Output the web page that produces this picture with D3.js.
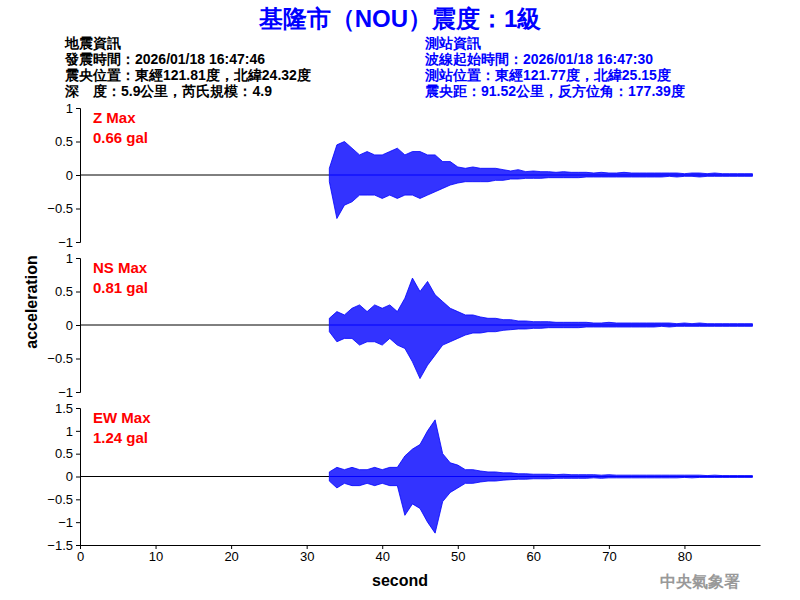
<!DOCTYPE html>
<html><head><meta charset="utf-8">
<script src="https://cdn.jsdelivr.net/npm/d3@7"></script>
<style>body{margin:0;background:#fff}text{font-family:Arial,"Liberation Sans",sans-serif}</style>
</head><body><svg id="c" width="800" height="600"></svg>
<script>
const titleText = '基隆市（NOU）震度：1級'
const leftInfo = ['地震資訊', '發震時間：2026/01/18 16:47:46', '震央位置：東經121.81度，北緯24.32度', '深　度：5.9公里，芮氏規模：4.9']
const rightInfo = ['測站資訊', '波線起始時間：2026/01/18 16:47:30', '測站位置：東經121.77度，北緯25.15度', '震央距：91.52公里，反方位角：177.39度']
const xTicks = [0, 10, 20, 30, 40, 50, 60, 70, 80]
// envelope per second, starting at t = 33 s
const t0 = 33
const zUpper = [0.1, 0.45, 0.5, 0.4, 0.3, 0.35, 0.3, 0.3, 0.35, 0.4, 0.3, 0.35, 0.35, 0.3, 0.3, 0.2, 0.2, 0.12, 0.1, 0.12, 0.1, 0.1, 0.1, 0.08, 0.06, 0.08, 0.05, 0.06, 0.05, 0.05, 0.04, 0.05, 0.04, 0.04, 0.04, 0.03, 0.04, 0.03, 0.03, 0.04, 0.03, 0.03, 0.03, 0.03, 0.03, 0.03, 0.03, 0.02, 0.03, 0.03, 0.02, 0.03, 0.02, 0.02, 0.02, 0.02, 0.02]
const zLower = [-0.1, -0.65, -0.45, -0.4, -0.3, -0.3, -0.3, -0.35, -0.3, -0.35, -0.3, -0.3, -0.35, -0.3, -0.25, -0.2, -0.15, -0.12, -0.1, -0.1, -0.1, -0.1, -0.08, -0.08, -0.06, -0.06, -0.05, -0.05, -0.05, -0.04, -0.04, -0.04, -0.04, -0.04, -0.03, -0.03, -0.03, -0.03, -0.03, -0.03, -0.03, -0.03, -0.03, -0.03, -0.03, -0.02, -0.03, -0.02, -0.02, -0.03, -0.02, -0.02, -0.02, -0.02, -0.02, -0.02, -0.02]
const nsUpper = [0.1, 0.2, 0.15, 0.25, 0.3, 0.2, 0.3, 0.25, 0.3, 0.2, 0.4, 0.7, 0.5, 0.65, 0.45, 0.35, 0.25, 0.2, 0.15, 0.15, 0.12, 0.1, 0.1, 0.08, 0.08, 0.06, 0.06, 0.05, 0.05, 0.05, 0.04, 0.04, 0.04, 0.04, 0.04, 0.03, 0.03, 0.04, 0.03, 0.03, 0.03, 0.03, 0.03, 0.03, 0.03, 0.03, 0.02, 0.03, 0.02, 0.03, 0.02, 0.02, 0.02, 0.02, 0.02, 0.02, 0.02]
const nsLower = [-0.1, -0.25, -0.2, -0.2, -0.3, -0.25, -0.25, -0.3, -0.2, -0.3, -0.35, -0.55, -0.8, -0.6, -0.45, -0.3, -0.25, -0.2, -0.15, -0.12, -0.12, -0.1, -0.1, -0.08, -0.07, -0.06, -0.06, -0.05, -0.05, -0.04, -0.04, -0.04, -0.04, -0.04, -0.03, -0.03, -0.03, -0.03, -0.03, -0.03, -0.03, -0.03, -0.03, -0.03, -0.02, -0.03, -0.02, -0.02, -0.02, -0.02, -0.02, -0.02, -0.02, -0.02, -0.02, -0.02, -0.02]
const ewUpper = [0.1, 0.2, 0.15, 0.2, 0.15, 0.15, 0.2, 0.15, 0.2, 0.2, 0.45, 0.6, 0.7, 1.0, 1.24, 0.5, 0.3, 0.25, 0.15, 0.15, 0.12, 0.1, 0.1, 0.08, 0.08, 0.06, 0.06, 0.05, 0.05, 0.05, 0.04, 0.05, 0.04, 0.04, 0.04, 0.04, 0.03, 0.04, 0.03, 0.03, 0.03, 0.03, 0.03, 0.03, 0.03, 0.03, 0.03, 0.03, 0.03, 0.03, 0.02, 0.03, 0.02, 0.02, 0.02, 0.02, 0.02]
const ewLower = [-0.1, -0.25, -0.15, -0.2, -0.2, -0.15, -0.2, -0.15, -0.2, -0.2, -0.85, -0.6, -0.7, -1.0, -1.24, -0.55, -0.35, -0.25, -0.15, -0.15, -0.12, -0.1, -0.1, -0.08, -0.07, -0.06, -0.06, -0.05, -0.05, -0.05, -0.04, -0.04, -0.04, -0.04, -0.04, -0.03, -0.04, -0.03, -0.03, -0.03, -0.03, -0.03, -0.03, -0.03, -0.03, -0.03, -0.03, -0.02, -0.03, -0.02, -0.02, -0.02, -0.02, -0.02, -0.02, -0.02, -0.02]

const panels = [
  { name: 'Z Max', max: '0.66 gal', top: 108, bottom: 242, lim: 1, ticks: [1, 0.5, 0, -0.5, -1], up: zUpper, lo: zLower },
  { name: 'NS Max', max: '0.81 gal', top: 258, bottom: 392, lim: 1, ticks: [1, 0.5, 0, -0.5, -1], up: nsUpper, lo: nsLower },
  { name: 'EW Max', max: '1.24 gal', top: 408, bottom: 545, lim: 1.5, ticks: [1.5, 1, 0.5, 0, -0.5, -1, -1.5], up: ewUpper, lo: ewLower }
]

const svg = d3.select('#c')
const x = d3.scaleLinear().domain([0, 90]).range([80, 760])

svg.append('text').attr('x', 400).attr('y', 27).attr('text-anchor', 'middle')
  .attr('font-size', 24).attr('font-weight', 'bold').attr('fill', '#0000ff').text(titleText)
leftInfo.forEach((s, i) => svg.append('text').attr('x', 65).attr('y', 48 + i * 16)
  .attr('font-size', 14).attr('font-weight', 'bold').text(s))
rightInfo.forEach((s, i) => svg.append('text').attr('x', 425).attr('y', 48 + i * 16)
  .attr('font-size', 14).attr('font-weight', 'bold').attr('fill', '#0000ff').text(s))

panels.forEach(p => {
  const y = d3.scaleLinear().domain([-p.lim, p.lim]).range([p.bottom, p.top])
  svg.append('g').attr('transform', 'translate(80,0)')
    .call(d3.axisLeft(y).tickValues(p.ticks).tickSize(4).tickFormat(d3.format('')))
    .call(g => g.selectAll('text').attr('font-size', 13).attr('fill', '#000'))
  svg.append('line').attr('x1', x(0)).attr('x2', x(t0)).attr('y1', y(0)).attr('y2', y(0))
    .attr('stroke', '#000').attr('stroke-width', 1)
  const pts = p.up.map((u, i) => ({ t: t0 + i, u: u, l: p.lo[i] }))
  svg.append('path').datum(pts)
    .attr('d', d3.area().x(d => x(d.t)).y0(d => y(d.l)).y1(d => y(d.u)))
    .attr('fill', '#0000ff').attr('fill-opacity', 0.8).attr('stroke', '#0000ff').attr('stroke-width', 0.8)
  svg.append('line').attr('x1', x(t0)).attr('x2', x(t0 + p.up.length - 1)).attr('y1', y(0)).attr('y2', y(0))
    .attr('stroke', '#0000ff').attr('stroke-width', 1)
  svg.append('text').attr('x', 93).attr('y', p.top + 15).attr('font-size', 15)
    .attr('font-weight', 'bold').attr('fill', '#ff0000').text(p.name)
  svg.append('text').attr('x', 93).attr('y', p.top + 35).attr('font-size', 15)
    .attr('font-weight', 'bold').attr('fill', '#ff0000').text(p.max)
})

svg.append('g').attr('transform', 'translate(0,545)')
  .call(d3.axisBottom(x).tickValues(xTicks).tickSize(4).tickSizeOuter(0))
  .call(g => g.selectAll('text').attr('font-size', 13).attr('fill', '#000'))
svg.append('text').attr('x', 400).attr('y', 586).attr('text-anchor', 'middle')
  .attr('font-size', 16).attr('font-weight', 'bold').text('second')
svg.append('text').attr('transform', 'translate(37,302) rotate(-90)').attr('text-anchor', 'middle')
  .attr('font-size', 16).attr('font-weight', 'bold').text('acceleration')
svg.append('text').attr('x', 700).attr('y', 587).attr('text-anchor', 'middle')
  .attr('font-size', 16).attr('font-weight', 'bold').attr('fill', '#999').text('中央氣象署')
</script></body></html>
